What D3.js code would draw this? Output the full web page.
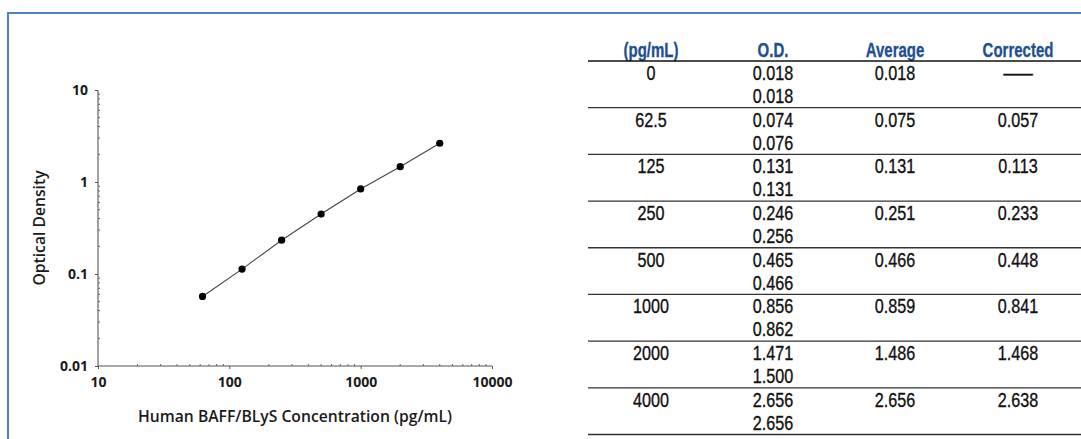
<!DOCTYPE html>
<html>
<head>
<meta charset="utf-8">
<script src="https://cdn.jsdelivr.net/npm/d3@7"></script>
<style>
  html, body { margin: 0; padding: 0; background: #fff; }
  svg { display: block; }
</style>
</head>
<body>
<svg id="fig" width="1081" height="439"></svg>
<script>
// Standard curve: concentration (pg/mL) vs corrected optical density
const concentrations = [0, 62.5, 125, 250, 500, 1000, 2000, 4000];
const concLabels = ["0", "62.5", "125", "250", "500", "1000", "2000", "4000"];
const odRep1 = ["0.018", "0.074", "0.131", "0.246", "0.465", "0.856", "1.471", "2.656"];
const odRep2 = ["0.018", "0.076", "0.131", "0.256", "0.466", "0.862", "1.500", "2.656"];
const odAverage = ["0.018", "0.075", "0.131", "0.251", "0.466", "0.859", "1.486", "2.656"];
const odCorrected = ["—", "0.057", "0.113", "0.233", "0.448", "0.841", "1.468", "2.638"];
const tableHeaders = ["(pg/mL)", "O.D.", "Average", "Corrected"];
const xTickValues = [10, 100, 1000, 10000];
const yTickValues = [0.01, 0.1, 1, 10];
const yTickLabels = ["0.01", "0.1", "1", "10"];

const svg = d3.select("#fig");

// Panel frame
svg.append("path")
  .attr("d", "M8,445 L8,13 L1090,13")
  .attr("fill", "none")
  .attr("stroke", "#4f81c2")
  .attr("stroke-width", 2);

// ---- Plot ----
const chartFont = "'Open Sans', 'DejaVu Sans', sans-serif";
const x = d3.scaleLog().domain([10, 10000]).range([98, 492]);
const y = d3.scaleLog().domain([0.01, 10]).range([366, 90]);

const plot = svg.append("g");

// minor ticks (inside), 2..9 per decade
const minorX = [];
const minorY = [];
[10, 100, 1000].forEach(d => { for (let k = 2; k <= 9; k++) minorX.push(d * k); });
[0.01, 0.1, 1].forEach(d => { for (let k = 2; k <= 9; k++) minorY.push(d * k); });

const xAxis = d3.axisBottom(x).tickValues(xTickValues).tickFormat(d3.format("d")).tickSize(3).tickPadding(8);
const yAxis = d3.axisLeft(y).tickValues(yTickValues).tickFormat((d, i) => yTickLabels[i]).tickSize(3).tickPadding(7);

const gx = plot.append("g").attr("transform", `translate(0,${y(0.01)})`).call(xAxis);
const gy = plot.append("g").attr("transform", `translate(${x(10)},0)`).call(yAxis);

[gx, gy].forEach(g => {
  g.select(".domain").attr("stroke", "#555").attr("stroke-width", 1.1);
  g.selectAll(".tick line").attr("stroke", "#555");
  g.selectAll(".tick text")
    .attr("fill", "#1a1a1a")
    .style("font-family", chartFont)
    .style("font-weight", 700)
    .style("font-size", "14px");
});
gx.select(".domain").attr("d", `M${x(10)},0H${x(10000)}`);
gy.select(".domain").attr("d", `M0,${y(0.01)}V${y(10)}`);

plot.append("g").selectAll("line").data(minorX).join("line")
  .attr("x1", d => x(d)).attr("x2", d => x(d))
  .attr("y1", y(0.01)).attr("y2", y(0.01) - 2)
  .attr("stroke", "#666").attr("stroke-width", 1);
plot.append("g").selectAll("line").data(minorY).join("line")
  .attr("y1", d => y(d)).attr("y2", d => y(d))
  .attr("x1", x(10)).attr("x2", x(10) + 2)
  .attr("stroke", "#666").attr("stroke-width", 1);

// axis titles
plot.append("text")
  .attr("x", 295).attr("y", 422)
  .attr("text-anchor", "middle")
  .style("font-family", chartFont).style("font-weight", 600).style("font-size", "15.7px")
  .attr("fill", "#1a1a1a")
  .text("Human BAFF/BLyS Concentration (pg/mL)");
plot.append("text")
  .attr("transform", `translate(45,228) rotate(-90)`)
  .attr("text-anchor", "middle")
  .style("font-family", chartFont).style("font-weight", 600).style("font-size", "15.7px")
  .attr("fill", "#1a1a1a")
  .text("Optical Density");

// curve from non-zero standards
const pts = concentrations
  .map((c, i) => ({ c, v: +odCorrected[i] }))
  .filter(d => d.c > 0 && !isNaN(d.v));

plot.append("path")
  .datum(pts)
  .attr("fill", "none")
  .attr("stroke", "#444")
  .attr("stroke-width", 1.1)
  .attr("d", d3.line().x(d => x(d.c)).y(d => y(d.v)));

plot.append("g").selectAll("circle").data(pts).join("circle")
  .attr("cx", d => x(d.c)).attr("cy", d => y(d.v))
  .attr("r", 3.6)
  .attr("fill", "#000");

// ---- Table ----
// condensed look: regular sans squeezed horizontally
const tableFont = "'Liberation Sans', Arial, sans-serif";
const colCenters = [651, 773, 895, 1018];
const rowTop = d3.scaleLinear().domain([0, concentrations.length]).range([61, 434.5]);
const tbl = svg.append("g");

tbl.selectAll("text.hdr").data(tableHeaders).join("text")
  .attr("class", "hdr")
  .attr("transform", (d, i) => `translate(${colCenters[i]},56.5) scale(0.75,1)`)
  .attr("text-anchor", "middle")
  .style("font-family", tableFont).style("font-weight", 700).style("font-size", "20px")
  .attr("fill", "#1d4f91")
  .attr("stroke", "#1d4f91").attr("stroke-width", 0.3)
  .text(d => d);

const lineYs = d3.range(concentrations.length + 1).map(i => rowTop(i));
tbl.selectAll("line").data(lineYs).join("line")
  .attr("x1", 588).attr("x2", 1081)
  .attr("y1", d => d).attr("y2", d => d)
  .attr("stroke", (d, i) => i === 0 ? "#111" : "#333")
  .attr("stroke-width", 1.3);

const rows = tbl.selectAll("g.row").data(concentrations).join("g")
  .attr("class", "row")
  .attr("transform", (d, i) => `translate(0,${rowTop(i)})`);

function cell(sel, col, dy, label) {
  const dash = label === "—";
  sel.append("text")
    .attr("transform", `translate(${colCenters[col]},${dy}) scale(${dash ? 1.5 : 0.83},1)`)
    .attr("text-anchor", "middle")
    .style("font-family", tableFont).style("font-size", "19.5px")
    .attr("fill", "#111")
    .attr("stroke", "#111").attr("stroke-width", 0.35)
    .text(label);
}
rows.each(function(d, i) {
  const r = d3.select(this);
  cell(r, 0, 19, concLabels[i]);
  cell(r, 1, 19, odRep1[i]);
  cell(r, 1, 42, odRep2[i]);
  cell(r, 2, 19, odAverage[i]);
  cell(r, 3, 19, odCorrected[i]);
});
</script>
</body>
</html>
